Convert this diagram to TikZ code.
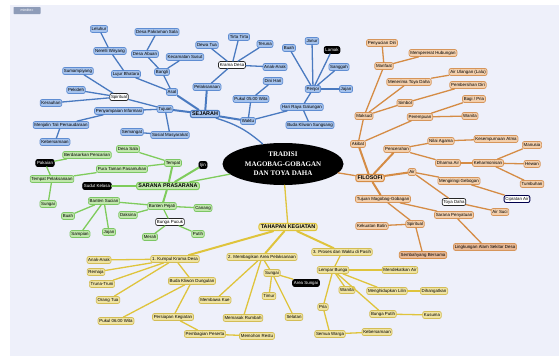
\documentclass[tikz,border=0pt]{standalone}
\usepackage{fontspec}
\setmainfont{Liberation Sans}
\newfontfamily\titleserif{Liberation Serif}
\usetikzlibrary{shapes.geometric}
\definecolor{bgmap}{HTML}{EEF0FA}
\definecolor{sejfill}{HTML}{A5C2EC}
\definecolor{sejline}{HTML}{5F8DD2}
\definecolor{sejwire}{HTML}{4A7AC0}
\definecolor{filfill}{HTML}{F3CFAC}
\definecolor{filline}{HTML}{D6955A}
\definecolor{filwire}{HTML}{D58C45}
\definecolor{fildeep}{HTML}{E8B894}
\definecolor{sarfill}{HTML}{C0E7AB}
\definecolor{sarline}{HTML}{7CC664}
\definecolor{sarwire}{HTML}{7FCC5C}
\definecolor{tahfill}{HTML}{EFE3A2}
\definecolor{tahline}{HTML}{D3BD55}
\definecolor{tahwire}{HTML}{DFC43C}
\definecolor{badge}{HTML}{8E9CB8}

\tikzset{
  leaf/.style={rounded corners=2pt, inner sep=1.3pt, minimum height=7pt,
    line width=0.7pt, font=\fontsize{4.4}{5}\selectfont},
  sejleaf/.style={leaf, fill=sejfill, draw=sejline},
  filleaf/.style={leaf, fill=filfill, draw=filline},
  sarleaf/.style={leaf, fill=sarfill, draw=sarline},
  tahleaf/.style={leaf, fill=tahfill, draw=tahline},
  darkleaf/.style={leaf, fill=black, draw=black, text=white},
  pickleaf/.style={leaf, fill=white, draw=black!85},
  topic/.style={rounded corners=2.5pt, inner sep=1.8pt, line width=1pt,
    font=\fontsize{5.4}{6}\selectfont\bfseries},
  sejwire/.style={draw=sejwire, line width=1.3pt, line cap=round},
  filwire/.style={draw=filwire, line width=1.3pt, line cap=round},
  sarwire/.style={draw=sarwire, line width=1.3pt, line cap=round},
  tahwire/.style={draw=tahwire, line width=1.3pt, line cap=round},
  trunk/.style={line width=3.8pt, line cap=round},
}

\begin{document}
\begin{tikzpicture}[x=1pt,y=-1pt]
\useasboundingbox (0,0) rectangle (559,356);
\fill[bgmap] (10,5) rectangle (559,356);
\node[fill=badge, text=white, rounded corners=0.6pt, inner sep=1pt,
  minimum width=27pt, minimum height=7pt, font=\fontsize{3.6}{4}\selectfont] (logo) at (27,10.5) {mindtec};

% pusat
\node[ellipse, fill=black, inner sep=0pt, minimum width=121pt, minimum height=42pt,
  text=white, align=center, font=\titleserif\fontsize{7}{9.5}\selectfont\bfseries] (root) at (283,164)
  {TRADISI\\MAGOBAG-GOBAGAN\\DAN TOYA DAHA};

% sejarah
\node[topic, fill=sejfill, draw=sejwire] (sej) at (205,114) {SEJARAH};
\node[sejleaf] (asal) at (172,92) {Asal};
\node[sejleaf] (bangli) at (162,72) {Bangli};
\node[sejleaf] (abuan) at (145,54) {Desa Abuan};
\node[sejleaf] (sala) at (157,32) {Desa Pakraman Sala};
\node[sejleaf] (susut) at (185,57) {Kecamatan Susut};
\node[sejleaf] (lujur) at (126,74) {Lujur Bhatara};
\node[sejleaf] (wiryang) at (110,51) {Nerelli Wiryang};
\node[sejleaf] (leluhur) at (99,29) {Leluhur};
\node[sejleaf] (tujuan) at (165,109) {Tujuan};
\node[pickleaf] (spirit) at (119,97) {Spiritual};
\node[sejleaf] (sumamp) at (78,71) {Sumampiyang};
\node[sejleaf] (pekideh) at (76,90) {Pekideh};
\node[sejleaf] (kerauhan) at (51,103) {Kerauhan};
\node[sejleaf] (info) at (119,111) {Penyampaian Informasi};
\node[sejleaf] (tali) at (61,125) {Menjalin Tali Persaudaraan};
\node[sejleaf] (bersama) at (55,142) {Kebersamaan};
\node[sejleaf] (sosial) at (170,135) {Sosial Masyarakat};
\node[sejleaf] (semangat) at (132,132) {Semangat};
\node[sejleaf] (pelaks) at (207,87) {Pelaksanaan};
\node[pickleaf] (krama) at (232,65) {Krama Desa};
\node[sejleaf] (dewatua) at (207,45) {Dewa Tua};
\node[sejleaf] (tirta) at (239,37) {Tirta Tirta};
\node[sejleaf] (teruna) at (265,44) {Teruna};
\node[sejleaf] (anak) at (275,67) {Anak-Anak};
\node[sejleaf] (waktu) at (248,121) {Waktu};
\node[sejleaf] (pukul) at (251,99) {Pukul 05.00 Wita};
\node[sejleaf] (dini) at (273,81) {Dini Hari};
\node[sejleaf] (galungan) at (302,107) {Hari Raya Galungan};
\node[sejleaf] (sungsang) at (310,125) {Buda Kliwon Sungsang};
\node[sejleaf] (penjor) at (313,89) {Penjor};
\node[sejleaf] (buah) at (289,48) {Buah};
\node[sejleaf] (janur) at (312,41) {Janur};
\node[darkleaf] (lamak) at (332,50) {Lamak};
\node[sejleaf] (sanggah) at (339,67) {Sanggah};
\node[sejleaf] (jajan) at (346,89) {Jajan};

% filosofi
\node[topic, fill=filfill, draw=filwire] (filo) at (370,178) {FILOSOFI};
\node[filleaf] (maksud) at (364,116) {Maksud};
\node[filleaf] (manfaat) at (384,66) {Manfaat};
\node[filleaf] (penyucian) at (382,43) {Penyucian Diri};
\node[filleaf] (hubungan) at (433,53) {Mempererat Hubungan};
\node[filleaf] (menerima) at (409,82) {Menerima Toya Daha};
\node[filleaf] (ulangan) at (468,72) {Air Ulangan (Lalu)};
\node[filleaf] (simbol) at (405,103) {Simbol};
\node[filleaf] (bersih) at (468,85) {Pembersihan Diri};
\node[filleaf] (akibat) at (358,144) {Akibat};
\node[filleaf] (perempuan) at (420,117) {Perempuan};
\node[filleaf] (pria) at (474,99) {Bagi / Pria};
\node[filleaf] (wanita) at (470,116) {Wanita};
\node[filleaf] (cerah) at (397,149) {Pencerahan};
\node[filleaf] (nilai) at (441,141) {Nilai Agama};
\node[filleaf] (atma) at (496,139) {Kesempurnaan Atma};
\node[filleaf] (dharma) at (448,163) {Dharma Air};
\node[filleaf] (harmoni) at (488,163) {Keharmonisan};
\node[filleaf] (manusia) at (532,145) {Manusia};
\node[filleaf] (hewan) at (532,164) {Hewan};
\node[filleaf] (tumbuh) at (532,184) {Tumbuhan};
\node[filleaf] (air) at (412,172) {Air};
\node[filleaf] (gebogan) at (459,181) {Mengiringi Gebogan};
\node[leaf, fill=white, draw=black!70!blue, line width=0.9pt] (ciprat) at (517,199) {Cipratan Air};
\node[pickleaf] (toya) at (454,202) {Toya Daha};
\node[filleaf] (suci) at (500,212) {Air Suci};
\node[filleaf] (tmg) at (383,199) {Tujuan Magobag-Gobagan};
\node[filleaf] (satu) at (454,215) {Sarana Penyatuan};
\node[filleaf] (spirit2) at (415,224) {Spiritual};
\node[filleaf] (batin) at (372,226) {Kekuatan Batin};
\node[leaf, fill=fildeep, draw=filwire] (sembah) at (423,255) {Sembahyang Bersama};
\node[leaf, fill=fildeep, draw=filline] (lingk) at (485,247) {Lingkungan Alam Sekitar Desa};

% sarana prasarana
\node[topic, fill=sarfill, draw=sarwire] (sarana) at (168,186) {SARANA PRASARANA};
\node[darkleaf] (ijin) at (203,165) {Ijin};
\node[sarleaf] (tempat) at (173,163) {Tempat};
\node[sarleaf] (desasala) at (128,149) {Desa Sala};
\node[sarleaf] (pura) at (122,169) {Pura Taman Pasamuhan};
\node[sarleaf] (tplaks) at (52,179) {Tempat Pelaksanaan};
\node[darkleaf] (pakaian) at (45,163) {Pakaian};
\node[sarleaf] (cari) at (87,155) {Berdasarkan Pencarian};
\node[sarleaf] (sungai) at (48,204) {Sungai};
\node[darkleaf] (sudut) at (97,186) {Sudut Kelasa};
\node[sarleaf] (pejati) at (162,206) {Banten Pejati};
\node[sarleaf] (sucian) at (104,201) {Banten Sucian};
\node[sarleaf] (daksina) at (128,215) {Daksina};
\node[sarleaf] (canang) at (203,208) {Canang};
\node[pickleaf] (pucuk) at (170,222) {Bunga Pucuk};
\node[sarleaf] (gbuah) at (68,216) {Buah};
\node[sarleaf] (sampian) at (80,234) {Sampian};
\node[sarleaf] (gjajan) at (109,232) {Jajan};
\node[sarleaf] (merah) at (150,237) {Merah};
\node[sarleaf] (putih) at (198,234) {Putih};

% tahapan kegiatan
\node[topic, fill=tahfill, draw=tahwire] (tahap) at (288,227) {TAHAPAN KEGIATAN};
\node[tahleaf] (k1) at (175,259) {1. Kumpul Krama Desa};
\node[tahleaf] (yanak) at (99,260) {Anak-Anak};
\node[tahleaf] (remaja) at (96,272) {Remaja};
\node[tahleaf] (truna) at (102,284) {Truna-Truni};
\node[tahleaf] (ortu) at (108,300) {Orang Tua};
\node[tahleaf] (dungulan) at (192,281) {Buda Kliwon Dungulan};
\node[tahleaf] (pukul6) at (116,321) {Pukul 06.00 Wita};
\node[tahleaf] (siap) at (173,317) {Persiapan Kegiatan};
\node[tahleaf] (peserta) at (205,334) {Pembagian Peserta};
\node[tahleaf] (restu) at (257,336) {Memohon Restu};
\node[tahleaf] (k2) at (262,257) {2. Membagikan Area Pelaksanaan};
\node[tahleaf] (kue) at (215,300) {Membawa Kue};
\node[tahleaf] (rumbah) at (243,318) {Memasak Rumbah};
\node[tahleaf] (ysungai) at (272,273) {Sungai};
\node[darkleaf] (area) at (306,283) {Area Sungai};
\node[tahleaf] (timur) at (269,296) {Timur};
\node[tahleaf] (selatan) at (294,317) {Selatan};
\node[tahleaf] (k3) at (342,252) {3. Proses dan Waktu di Pasih};
\node[tahleaf] (lempar) at (333,270) {Lempar Bunga};
\node[tahleaf] (dekat) at (400,270) {Mendekatkan Air};
\node[tahleaf] (ywanita) at (347,290) {Wanita};
\node[tahleaf] (lilin) at (387,291) {Menghidupkan Lilin};
\node[tahleaf] (hangat) at (434,291) {Dihangatkan};
\node[tahleaf] (ypria) at (323,307) {Pria};
\node[tahleaf] (putihb) at (383,314) {Bunga Putih};
\node[tahleaf] (kusuma) at (432,315) {Kusuma};
\node[tahleaf] (warga) at (330,334) {Semua Warga};
\node[tahleaf] (kebers) at (377,332) {Kebersamaan};

% batang utama
\draw[trunk, sejwire] (root) to[bend right=12] (sej);
\draw[trunk, filwire] (root) -- (filo);
\draw[trunk, sarwire] (root) -- (sarana);
\draw[trunk, tahwire] (root) -- (tahap);

% cabang
\foreach \a/\b in {sej/asal, sej/tujuan, sej/pelaks, sej/waktu}
  \draw[sejwire, line width=2pt] (\a) -- (\b);
\foreach \a/\b in {asal/bangli, bangli/abuan, abuan/sala, bangli/susut, asal/lujur,
  lujur/wiryang, wiryang/leluhur, tujuan/spirit, tujuan/info, tujuan/sosial,
  spirit/sumamp, spirit/pekideh, spirit/kerauhan, info/tali, tali/bersama,
  sosial/semangat, pelaks/krama, krama/dewatua, krama/tirta, krama/teruna, krama/anak,
  waktu/pukul, pukul/dini, waktu/galungan, galungan/penjor, galungan/sungsang,
  penjor/buah, penjor/janur, penjor/lamak, penjor/sanggah, penjor/jajan}
  \draw[sejwire] (\a) -- (\b);

\foreach \a/\b in {filo/akibat, filo/cerah, filo/air, filo/tmg}
  \draw[filwire, line width=2pt] (\a) -- (\b);
\foreach \a/\b in {akibat/maksud, maksud/manfaat, maksud/menerima, maksud/simbol,
  manfaat/penyucian, manfaat/hubungan, menerima/ulangan, simbol/bersih,
  akibat/perempuan, perempuan/pria, perempuan/wanita, cerah/nilai, nilai/atma,
  cerah/dharma, dharma/harmoni, harmoni/manusia, harmoni/hewan, harmoni/tumbuh,
  air/gebogan, gebogan/ciprat, air/toya, toya/suci, tmg/satu, satu/lingk,
  tmg/spirit2, spirit2/sembah, spirit2/batin}
  \draw[filwire] (\a) -- (\b);

\foreach \a/\b in {sarana/tempat, sarana/sudut, sarana/pejati, sarana/ijin}
  \draw[sarwire, line width=2pt] (\a) -- (\b);
\foreach \a/\b in {tempat/desasala, tempat/pura, pura/tplaks, tplaks/pakaian,
  tplaks/sungai, pakaian/cari, pejati/sucian, pejati/daksina, pejati/canang,
  pejati/pucuk, sucian/gbuah, sucian/sampian, sucian/gjajan, pucuk/merah, pucuk/putih}
  \draw[sarwire] (\a) -- (\b);

\foreach \a/\b in {tahap/k1, tahap/k2, tahap/k3}
  \draw[tahwire, line width=2pt] (\a) -- (\b);
\foreach \a/\b in {k1/yanak, k1/remaja, k1/truna, k1/ortu, k1/dungulan,
  dungulan/pukul6, dungulan/siap, siap/peserta, peserta/restu, k2/kue, k2/rumbah,
  k2/ysungai, ysungai/area, ysungai/timur, ysungai/selatan, k3/lempar,
  lempar/dekat, lempar/ywanita, lempar/lilin, lempar/ypria, lempar/putihb,
  lilin/hangat, putihb/kusuma, ypria/warga, warga/kebers}
  \draw[tahwire] (\a) -- (\b);
\end{tikzpicture}
\end{document}
